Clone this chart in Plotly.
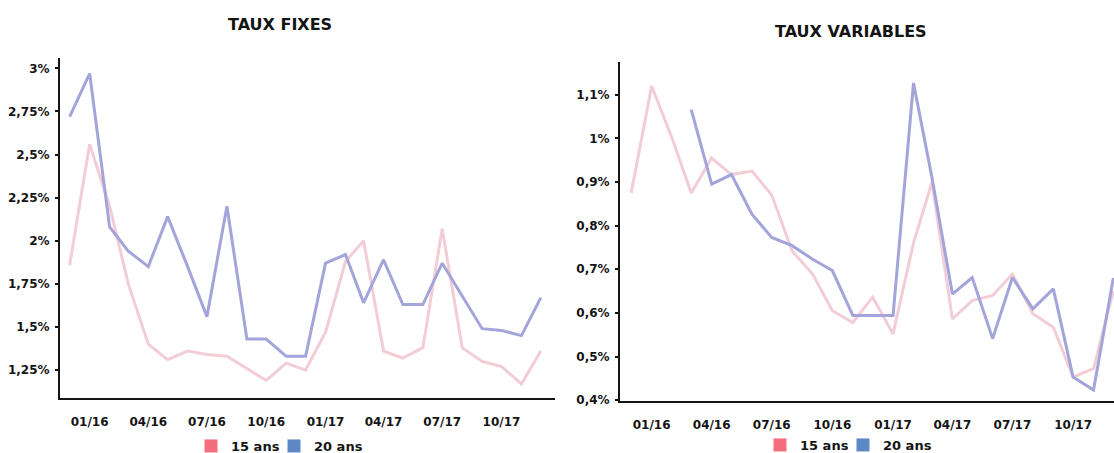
import plotly.graph_objects as go

# Monthly observations, Dec 2015 to Dec 2017
months = [
    "2015-12-01", "2016-01-01", "2016-02-01", "2016-03-01", "2016-04-01",
    "2016-05-01", "2016-06-01", "2016-07-01", "2016-08-01", "2016-09-01",
    "2016-10-01", "2016-11-01", "2016-12-01", "2017-01-01", "2017-02-01",
    "2017-03-01", "2017-04-01", "2017-05-01", "2017-06-01", "2017-07-01",
    "2017-08-01", "2017-09-01", "2017-10-01", "2017-11-01", "2017-12-01",
]

# Taux fixes (%)
fixes_15 = [1.86, 2.56, 2.20, 1.75, 1.40, 1.31, 1.36, 1.34, 1.33, 1.26,
            1.19, 1.29, 1.25, 1.47, 1.88, 2.00, 1.36, 1.32, 1.38, 2.07,
            1.38, 1.30, 1.27, 1.17, 1.36]
fixes_20 = [2.72, 2.97, 2.08, 1.94, 1.85, 2.14, 1.85, 1.56, 2.20, 1.43,
            1.43, 1.33, 1.33, 1.87, 1.92, 1.64, 1.89, 1.63, 1.63, 1.87,
            1.68, 1.49, 1.48, 1.45, 1.67]

# Taux variables (%)
var_15 = [0.875, 1.12, 1.00, 0.875, 0.955, 0.917, 0.925, 0.87, 0.742, 0.689,
          0.605, 0.578, 0.636, 0.552, 0.76, 0.90, 0.586, 0.628, 0.64, 0.689,
          0.598, 0.567, 0.453, 0.472, 0.65]
var_20 = [None, None, None, 1.066, 0.895, 0.917, 0.826, 0.773, 0.754, 0.723,
          0.697, 0.594, 0.594, 0.594, 1.127, 0.91, 0.643, 0.681, 0.541, 0.681,
          0.609, 0.655, 0.453, 0.423, 0.68]

series_names = ["15 ans", "20 ans"]
titles = ["TAUX FIXES", "TAUX VARIABLES"]

fixes_ticks = [1.25, 1.5, 1.75, 2.0, 2.25, 2.5, 2.75, 3.0]
fixes_ticktext = ["1,25%", "1,5%", "1,75%", "2%", "2,25%", "2,5%", "2,75%", "3%"]
var_ticks = [0.4, 0.5, 0.6, 0.7, 0.8, 0.9, 1.0, 1.1]
var_ticktext = ["0,4%", "0,5%", "0,6%", "0,7%", "0,8%", "0,9%", "1%", "1,1%"]

date_ticks = ["2016-01-01", "2016-04-01", "2016-07-01", "2016-10-01",
              "2017-01-01", "2017-04-01", "2017-07-01", "2017-10-01"]
date_ticktext = ["01/16", "04/16", "07/16", "10/16", "01/17", "04/17", "07/17", "10/17"]

PINK_LINE = "#f3cdd6"
BLUE_LINE = "#a3a5da"
PINK_KEY = "#f46d7c"
BLUE_KEY = "#5d88c6"
FONT = "DejaVu Sans"
INK = "#141414"

W, H = 1114, 453

fig = go.Figure()

# Lines
for xa, ya, s15, s20 in [("x", "y", fixes_15, fixes_20), ("x2", "y2", var_15, var_20)]:
    fig.add_trace(go.Scatter(x=months, y=s15, xaxis=xa, yaxis=ya, mode="lines",
                             line=dict(color=PINK_LINE, width=3), showlegend=False,
                             name=series_names[0]))
    fig.add_trace(go.Scatter(x=months, y=s20, xaxis=xa, yaxis=ya, mode="lines",
                             line=dict(color=BLUE_LINE, width=3), showlegend=False,
                             name=series_names[1]))

# Legend keys: each swatch gets its own small legend so the spacing can be set freely
legend_font = dict(family=FONT, size=13, color=INK, weight="bold")
legend_specs = [
    # (legend id, axes, series index, left edge px, vertical centre px)
    ("legend", "x", "y", 0, 191, 446),
    ("legend2", "x", "y", 1, 274, 446),
    ("legend3", "x2", "y2", 0, 760, 445),
    ("legend4", "x2", "y2", 1, 843, 445),
]
legend_layout = {}
for leg, xa, ya, idx, left_px, mid_px in legend_specs:
    fig.add_trace(go.Scatter(x=[None], y=[None], xaxis=xa, yaxis=ya, mode="markers",
                             marker=dict(symbol="square", size=13,
                                         color=[PINK_KEY, BLUE_KEY][idx]),
                             name=series_names[idx], legend=leg, showlegend=True))
    legend_layout[leg] = dict(orientation="h", x=left_px / W, y=(H - mid_px) / H,
                              xanchor="left", yanchor="middle", font=legend_font,
                              itemwidth=30, bgcolor="rgba(0,0,0,0)")

tickfont = dict(family=FONT, size=12, color=INK, weight="bold")

common_x = dict(type="date", tickvals=date_ticks, ticktext=date_ticktext,
                showgrid=False, zeroline=False, showline=True, linecolor=INK,
                linewidth=2, ticks="", tickfont=tickfont, ticklabelstandoff=12,
                automargin=False)
common_y = dict(showgrid=False, zeroline=False, showline=True, linecolor=INK,
                linewidth=2, ticks="outside", ticklen=3, tickwidth=2, tickcolor=INK,
                tickfont=tickfont, ticklabelstandoff=3, automargin=False)

fig.update_layout(
    width=W, height=H,
    margin=dict(l=0, r=0, t=0, b=0, autoexpand=False),
    paper_bgcolor="white", plot_bgcolor="white",
    xaxis=dict(common_x, domain=[60 / W, 555 / W], range=["2015-11-16", "2017-12-23"], anchor="y"),
    yaxis=dict(common_y, domain=[(H - 398) / H, (H - 58) / H], range=[1.088, 3.06],
               tickvals=fixes_ticks, ticktext=fixes_ticktext, anchor="x"),
    xaxis2=dict(common_x, domain=[620 / W, 1.0], range=["2015-11-14", "2017-12-02"], anchor="y2"),
    yaxis2=dict(common_y, domain=[(H - 401) / H, (H - 62) / H], range=[0.398, 1.175],
                tickvals=var_ticks, ticktext=var_ticktext, anchor="x2"),
    showlegend=True,
    annotations=[
        dict(text="<b>" + titles[0] + "</b>", x=280 / W, y=(H - 24) / H, xref="paper", yref="paper",
             xanchor="center", yanchor="middle", showarrow=False,
             font=dict(family=FONT, size=16, color=INK)),
        dict(text="<b>" + titles[1] + "</b>", x=851 / W, y=(H - 31) / H, xref="paper", yref="paper",
             xanchor="center", yanchor="middle", showarrow=False,
             font=dict(family=FONT, size=16, color=INK)),
    ],
    **legend_layout,
)

fig.write_html("out.html")
